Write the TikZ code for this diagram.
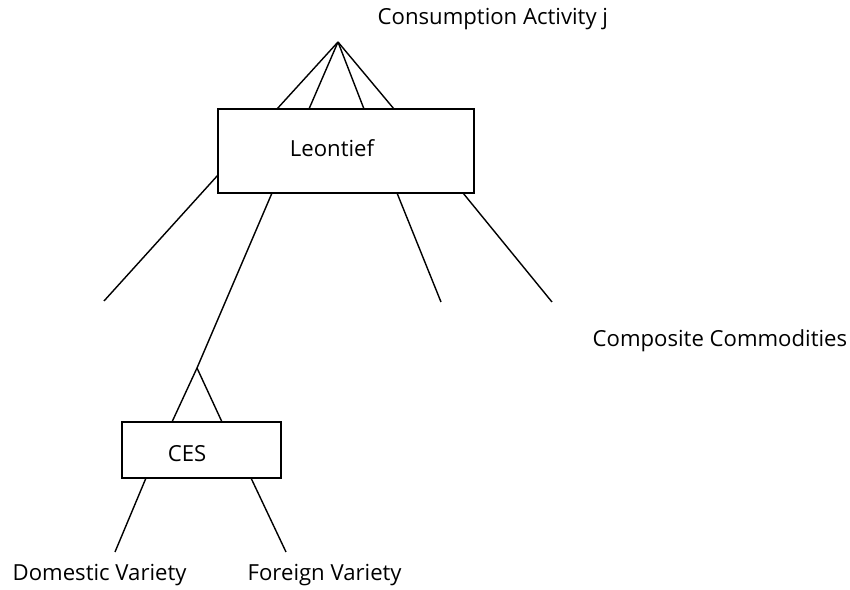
\documentclass[tikz,border=0pt]{standalone}
\usepackage{fontspec}
\setmainfont{Open Sans}
\usepackage{tikz}
\usetikzlibrary{arrows,shapes}

\begin{document}
\begin{tikzpicture}[-,x=0.02cm,y=-0.02cm,line width=0.8pt,
		box/.style={rectangle,draw,inner sep=0pt},
		lbl/.style={inner sep=0pt,font=\fontsize{12.6}{15}\selectfont}]
		\useasboundingbox (0,0) rectangle (850,590);
		% nests
		\node[box,minimum width=5.12cm,minimum height=1.68cm] (L) at (346,151) {};
		\node[box,minimum width=3.18cm,minimum height=1.12cm] (C) at (201.5,450) {};
		\node[lbl] (Lt) at (332,148) {Leontief};
		\node[lbl] (Ct) at (187,454) {CES};
		% texts
		\node[lbl,anchor=west] (top) at (377,19) {Consumption Activity j};
		\node[lbl,anchor=west] (comp) at (592,341) {Composite Commodities};
		\node[lbl,anchor=west] (dom) at (12,575) {Domestic Variety};
		\node[lbl,anchor=west] (for) at (247,575) {Foreign Variety};
		% branch points
		\coordinate (A) at (338,42);
		\coordinate (K) at (197,368);
		\coordinate (L1) at (277,109);
		\coordinate (L2) at (309,109);
		\coordinate (L3) at (364,109);
		\coordinate (L4) at (394,109);
		\coordinate (B1) at (218,175);
		\coordinate (B2) at (272,193);
		\coordinate (B3) at (397,193);
		\coordinate (B4) at (463,193);
		\coordinate (E1) at (104,301);
		\coordinate (E3) at (441,302);
		\coordinate (E4) at (552,302);
		\coordinate (C1) at (172,422);
		\coordinate (C2) at (222,422);
		\coordinate (D1) at (146,478);
		\coordinate (D2) at (251,478);
		\coordinate (F1) at (115,552);
		\coordinate (F2) at (286,552);
		\path[draw]
		(A) edge (L1)
		(A) edge (L2)
		(A) edge (L3)
		(A) edge (L4)
		(B1) edge (E1)
		(B2) edge (K)
		(B3) edge (E3)
		(B4) edge (E4)
		(K) edge (C1)
		(K) edge (C2)
		(D1) edge (F1)
		(D2) edge (F2)
		;
	\end{tikzpicture}
\end{document}
